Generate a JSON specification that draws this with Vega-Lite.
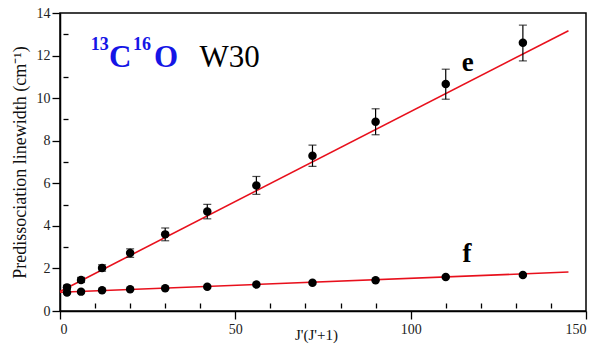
{
  "$schema": "https://vega.github.io/schema/vega-lite/v6.json",
  "width": 526,
  "height": 298,
  "autosize": {"type": "none"},
  "padding": {"left": 60, "top": 13, "right": 14, "bottom": 40},
  "background": "white",
  "config": {
    "view": {"stroke": "black", "strokeWidth": 1.5},
    "axis": {
      "grid": false,
      "labelFont": "Liberation Serif",
      "labelFontSize": 14,
      "labelColor": "#222222",
      "titleFont": "Liberation Serif",
      "titleFontSize": 16,
      "titleFontWeight": "normal",
      "titleColor": "#111111",
      "domainColor": "black",
      "domainWidth": 1.5,
      "tickColor": "black",
      "tickWidth": 1.3
    }
  },
  "datasets": {
    "pts": [
      {"jj": 2, "branch": "e", "width": 1.11, "lo": 1.01, "hi": 1.21},
      {"jj": 6, "branch": "e", "width": 1.46, "lo": 1.34, "hi": 1.58},
      {"jj": 12, "branch": "e", "width": 2.02, "lo": 1.87, "hi": 2.17},
      {"jj": 20, "branch": "e", "width": 2.72, "lo": 2.52, "hi": 2.92},
      {"jj": 30, "branch": "e", "width": 3.6, "lo": 3.3, "hi": 3.9},
      {"jj": 42, "branch": "e", "width": 4.67, "lo": 4.33, "hi": 5.01},
      {"jj": 56, "branch": "e", "width": 5.9, "lo": 5.48, "hi": 6.32},
      {"jj": 72, "branch": "e", "width": 7.29, "lo": 6.79, "hi": 7.79},
      {"jj": 90, "branch": "e", "width": 8.89, "lo": 8.28, "hi": 9.5},
      {"jj": 110, "branch": "e", "width": 10.66, "lo": 9.95, "hi": 11.36},
      {"jj": 132, "branch": "e", "width": 12.6, "lo": 11.75, "hi": 13.43},
      {"jj": 2, "branch": "f", "width": 0.87},
      {"jj": 6, "branch": "f", "width": 0.91},
      {"jj": 12, "branch": "f", "width": 0.97},
      {"jj": 20, "branch": "f", "width": 1.02},
      {"jj": 30, "branch": "f", "width": 1.07},
      {"jj": 42, "branch": "f", "width": 1.14},
      {"jj": 56, "branch": "f", "width": 1.24},
      {"jj": 72, "branch": "f", "width": 1.33},
      {"jj": 90, "branch": "f", "width": 1.44},
      {"jj": 110, "branch": "f", "width": 1.6},
      {"jj": 132, "branch": "f", "width": 1.69}
    ],
    "fits": [
      {"branch": "e", "jj": 0, "width": 0.92},
      {"branch": "e", "jj": 145, "width": 13.17},
      {"branch": "f", "jj": 0, "width": 0.88},
      {"branch": "f", "jj": 145, "width": 1.83}
    ],
    "sup": [
      {"t": "13", "jj": 8.8, "width": 12.28},
      {"t": "16", "jj": 20.8, "width": 12.28}
    ],
    "big": [
      {"t": "C", "jj": 13.97, "width": 11.44},
      {"t": "O", "jj": 26.8, "width": 11.44}
    ],
    "plain": [
      {"t": "W30", "jj": 39.8, "width": 11.44}
    ],
    "branchLabels": [
      {"t": "e", "jj": 114.6, "width": 11.26},
      {"t": "f", "jj": 114.8, "width": 2.32}
    ]
  },
  "layer": [
    {
      "data": {"name": "fits"},
      "mark": {"type": "line", "color": "#e8101c", "strokeWidth": 1.6},
      "encoding": {
        "x": {
          "field": "jj", "type": "quantitative",
          "scale": {"domain": [0, 150], "nice": false},
          "axis": {
            "values": [0, 50, 100, 150],
            "tickSize": 8,
            "labelPadding": 3,
            "title": "J'(J'+1)",
            "titleX": 256,
            "titleY": 28,
            "titleAlign": "center",
            "titleBaseline": "alphabetic",
            "titleFontSize": 15
          }
        },
        "y": {
          "field": "width", "type": "quantitative",
          "scale": {"domain": [0, 14], "nice": false},
          "axis": {
            "values": [0, 2, 4, 6, 8, 10, 12, 14],
            "tickSize": 8,
            "labelPadding": 2,
            "title": "Predissociation linewidth (cm⁻¹)",
            "titlePadding": 7,
            "titleFontSize": 18
          }
        },
        "detail": {"field": "branch"}
      }
    },
    {
      "data": {"name": "pts"},
      "mark": {"type": "rule", "color": "black", "strokeWidth": 1.2},
      "encoding": {
        "x": {"field": "jj", "type": "quantitative", "axis": null},
        "y": {"field": "lo", "type": "quantitative", "axis": null},
        "y2": {"field": "hi"}
      }
    },
    {
      "data": {"name": "pts"},
      "mark": {"type": "tick", "color": "black", "orient": "horizontal", "size": 8, "thickness": 1.2},
      "encoding": {
        "x": {"field": "jj", "type": "quantitative", "axis": null},
        "y": {"field": "lo", "type": "quantitative", "axis": null}
      }
    },
    {
      "data": {"name": "pts"},
      "mark": {"type": "tick", "color": "black", "orient": "horizontal", "size": 8, "thickness": 1.2},
      "encoding": {
        "x": {"field": "jj", "type": "quantitative", "axis": null},
        "y": {"field": "hi", "type": "quantitative", "axis": null}
      }
    },
    {
      "data": {"name": "pts"},
      "mark": {"type": "circle", "color": "black", "opacity": 1, "size": 72},
      "encoding": {
        "x": {"field": "jj", "type": "quantitative", "axis": null},
        "y": {"field": "width", "type": "quantitative", "axis": null}
      }
    },
    {
      "data": {"name": "sup"},
      "mark": {"type": "text", "align": "left", "baseline": "alphabetic", "font": "Liberation Serif", "fontWeight": "bold", "fontSize": 18, "color": "#1515e6"},
      "encoding": {
        "x": {"field": "jj", "type": "quantitative", "axis": null},
        "y": {"field": "width", "type": "quantitative", "axis": null},
        "text": {"field": "t"}
      }
    },
    {
      "data": {"name": "big"},
      "mark": {"type": "text", "align": "left", "baseline": "alphabetic", "font": "Liberation Serif", "fontWeight": "bold", "fontSize": 31, "color": "#1515e6"},
      "encoding": {
        "x": {"field": "jj", "type": "quantitative", "axis": null},
        "y": {"field": "width", "type": "quantitative", "axis": null},
        "text": {"field": "t"}
      }
    },
    {
      "data": {"name": "plain"},
      "mark": {"type": "text", "align": "left", "baseline": "alphabetic", "font": "Liberation Serif", "fontSize": 31, "color": "black"},
      "encoding": {
        "x": {"field": "jj", "type": "quantitative", "axis": null},
        "y": {"field": "width", "type": "quantitative", "axis": null},
        "text": {"field": "t"}
      }
    },
    {
      "data": {"name": "branchLabels"},
      "mark": {"type": "text", "align": "left", "baseline": "alphabetic", "font": "Liberation Serif", "fontWeight": "bold", "fontSize": 27, "color": "black"},
      "encoding": {
        "x": {"field": "jj", "type": "quantitative", "axis": null},
        "y": {"field": "width", "type": "quantitative", "axis": null},
        "text": {"field": "t"}
      }
    },
    {
      "data": {"name": "fits"},
      "mark": {"type": "point", "opacity": 0},
      "encoding": {
        "x": {
          "field": "jj", "type": "quantitative",
          "scale": {"domain": [0, 150], "nice": false},
          "axis": {"orient": "bottom", "offset": -8, "values": [10, 20, 30, 40, 60, 70, 80, 90, 110, 120, 130, 140], "tickSize": 5, "labels": false, "domain": false, "title": null}
        },
        "y": {
          "field": "width", "type": "quantitative",
          "scale": {"domain": [0, 14], "nice": false},
          "axis": {"orient": "left", "offset": -8, "values": [1, 3, 5, 7, 9, 11, 13], "tickSize": 5, "labels": false, "domain": false, "title": null}
        }
      }
    }
  ],
  "resolve": {"axis": {"x": "independent", "y": "independent"}}
}
